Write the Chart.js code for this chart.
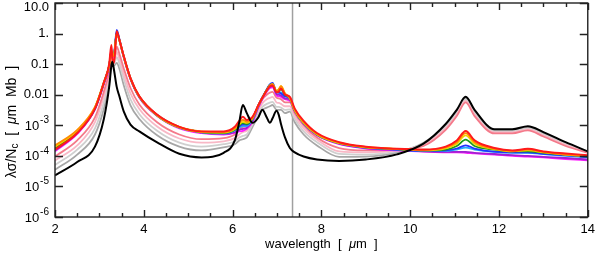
<!DOCTYPE html>
<html>
<head>
<meta charset="utf-8">
<script src="https://cdn.jsdelivr.net/npm/chart.js@4.4.1/dist/chart.umd.min.js"></script>
<style>
  body { margin: 0; background: #fff; }
</style>
</head>
<body>
<canvas id="chart" width="600" height="257"></canvas>
<script>
// wavelength grid (micron) shared by all curves
const wavelength = [2.0, 2.5, 2.9, 3.1, 3.22, 3.27, 3.29, 3.33, 3.39, 3.45, 3.55, 3.7, 3.9, 4.3, 4.8, 5.3, 5.8, 6.05, 6.15, 6.23, 6.32, 6.45, 6.58, 6.67, 6.77, 6.84, 6.9, 6.99, 7.04, 7.09, 7.18, 7.29, 7.4, 7.6, 7.9, 8.4, 9.0, 9.7, 10.3, 10.8, 11.05, 11.25, 11.45, 11.9, 12.3, 12.65, 13.0, 13.5, 14.0];

// lambda*sigma/Nc
const black = [2.3e-5, 6.3e-5, 2.0e-4, 1.6e-3, 1.8e-2, 8.9e-2, 0.12, 6.3e-2, 1.8e-2, 8.9e-3, 2.8e-3, 1.05e-3, 6.3e-4, 2.75e-4, 1.17e-4, 8.9e-5, 1.26e-4, 3.2e-4, 1.26e-3, 4.6e-3, 2.5e-3, 1.2e-3, 1.8e-3, 3.2e-3, 1.8e-3, 1.2e-3, 1.7e-3, 3.0e-3, 2.2e-3, 1.1e-3, 4.0e-4, 1.8e-4, 1.3e-4, 9.5e-5, 7.6e-5, 6.8e-5, 7.6e-5, 1.12e-4, 2.5e-4, 1.1e-3, 3.2e-3, 8.5e-3, 3.2e-3, 7.4e-4, 7.4e-4, 9.3e-4, 6.0e-4, 2.8e-4, 1.4e-4];
const darkGray = [3.5e-5, 1.1e-4, 5.0e-4, 3.5e-3, 2.4e-2, 0.1, 0.12, 8.9e-2, 0.11, 7.1e-2, 2.0e-2, 4.5e-3, 1.6e-3, 4.7e-4, 2.0e-4, 1.5e-4, 1.9e-4, 2.4e-4, 3.2e-4, 3.5e-4, 4.0e-4, 8.9e-4, 2.0e-3, 3.2e-3, 3.8e-3, 4.2e-3, 4.6e-3, 3.2e-3, 3.2e-3, 3.2e-3, 2.5e-3, 2.8e-3, 1.26e-3, 5.0e-4, 2.2e-4, 9.3e-5, 9.5e-5, 1.3e-4, 2.7e-4, 1.0e-3, 2.8e-3, 7.6e-3, 2.8e-3, 6.8e-4, 6.8e-4, 8.5e-4, 5.5e-4, 2.6e-4, 1.35e-4];
const lightGray = [5.0e-5, 1.6e-4, 7.9e-4, 5.6e-3, 3.2e-2, 0.11, 0.13, 0.1, 0.17, 0.105, 3.2e-2, 7.1e-3, 2.3e-3, 6.6e-4, 2.7e-4, 2.0e-4, 2.4e-4, 3.0e-4, 4.0e-4, 4.5e-4, 5.0e-4, 1.1e-3, 2.5e-3, 4.0e-3, 5.0e-3, 5.5e-3, 5.8e-3, 4.0e-3, 4.0e-3, 3.8e-3, 3.2e-3, 3.3e-3, 1.6e-3, 6.3e-4, 2.8e-4, 1.17e-4, 1.1e-4, 1.4e-4, 2.5e-4, 8.9e-4, 2.5e-3, 6.9e-3, 2.5e-3, 6.3e-4, 6.3e-4, 7.9e-4, 5.0e-4, 2.45e-4, 1.3e-4];
const lightPink = [7.1e-5, 2.2e-4, 1.26e-3, 8.9e-3, 4.2e-2, 0.126, 0.14, 0.11, 0.25, 0.15, 4.7e-2, 1.1e-2, 3.4e-3, 9.1e-4, 3.7e-4, 2.7e-4, 3.0e-4, 3.8e-4, 5.0e-4, 6.0e-4, 6.6e-4, 1.4e-3, 3.2e-3, 5.2e-3, 7.1e-3, 7.9e-3, 8.5e-3, 5.6e-3, 5.4e-3, 5.0e-3, 4.2e-3, 4.2e-3, 2.0e-3, 7.9e-4, 3.4e-4, 1.4e-4, 1.3e-4, 1.5e-4, 2.3e-4, 7.9e-4, 2.2e-3, 6.3e-3, 2.2e-3, 5.9e-4, 5.9e-4, 7.4e-4, 4.7e-4, 2.3e-4, 1.3e-4];
const pink = [9.5e-5, 3.2e-4, 1.8e-3, 1.26e-2, 5.6e-2, 0.16, 0.16, 0.13, 0.37, 0.22, 7.1e-2, 1.66e-2, 4.8e-3, 1.26e-3, 5.0e-4, 3.5e-4, 3.8e-4, 5.0e-4, 7.1e-4, 8.9e-4, 9.5e-4, 1.8e-3, 4.2e-3, 7.1e-3, 1.0e-2, 1.17e-2, 1.23e-2, 7.9e-3, 7.6e-3, 7.1e-3, 5.6e-3, 5.6e-3, 2.5e-3, 1.0e-3, 4.0e-4, 1.8e-4, 1.5e-4, 1.6e-4, 2.1e-4, 7.1e-4, 2.0e-3, 5.6e-3, 2.0e-3, 5.4e-4, 5.4e-4, 6.8e-4, 4.3e-4, 2.1e-4, 1.26e-4];
const magenta = [1.4e-4, 5.2e-4, 3.3e-3, 2.2e-2, 7.9e-2, 0.32, 0.16, 0.19, 1.05, 0.59, 0.16, 3.2e-2, 7.9e-3, 2.0e-3, 7.9e-4, 5.5e-4, 5.0e-4, 5.6e-4, 6.3e-4, 6.6e-4, 7.6e-4, 1.3e-3, 3.8e-3, 7.1e-3, 1.26e-2, 1.66e-2, 1.74e-2, 9.5e-3, 8.9e-3, 8.5e-3, 7.1e-3, 6.3e-3, 2.8e-3, 1.1e-3, 4.7e-4, 2.4e-4, 1.74e-4, 1.5e-4, 1.38e-4, 1.3e-4, 1.3e-4, 1.26e-4, 1.2e-4, 1.1e-4, 1.0e-4, 9.5e-5, 8.9e-5, 7.9e-5, 7.1e-5];
const purple = [1.5e-4, 5.5e-4, 3.4e-3, 2.3e-2, 8.3e-2, 0.25, 0.18, 0.21, 1.12, 0.63, 0.166, 3.3e-2, 8.3e-3, 2.1e-3, 8.3e-4, 5.8e-4, 5.2e-4, 6.0e-4, 7.1e-4, 7.6e-4, 8.3e-4, 1.4e-3, 4.0e-3, 7.6e-3, 1.35e-2, 1.8e-2, 1.9e-2, 1.05e-2, 1.0e-2, 9.5e-3, 7.6e-3, 6.8e-3, 2.9e-3, 1.15e-3, 4.8e-4, 2.5e-4, 1.8e-4, 1.55e-4, 1.4e-4, 1.35e-4, 1.35e-4, 1.35e-4, 1.26e-4, 1.15e-4, 1.05e-4, 1.0e-4, 9.3e-5, 8.5e-5, 7.6e-5];
const cyan = [1.66e-4, 6.0e-4, 3.5e-3, 2.4e-2, 8.9e-2, 0.25, 0.18, 0.2, 1.12, 0.63, 0.17, 3.4e-2, 8.5e-3, 2.1e-3, 8.5e-4, 5.9e-4, 5.4e-4, 6.8e-4, 8.5e-4, 9.3e-4, 9.5e-4, 1.6e-3, 4.4e-3, 7.9e-3, 1.45e-2, 2.1e-2, 2.2e-2, 1.2e-2, 1.2e-2, 1.2e-2, 8.9e-3, 7.6e-3, 3.0e-3, 1.17e-3, 4.9e-4, 2.6e-4, 1.86e-4, 1.6e-4, 1.45e-4, 1.45e-4, 1.6e-4, 1.86e-4, 1.6e-4, 1.35e-4, 1.26e-4, 1.26e-4, 1.15e-4, 1.0e-4, 8.9e-5];
const blue = [1.7e-4, 6.2e-4, 3.6e-3, 2.45e-2, 8.9e-2, 0.25, 0.19, 0.22, 1.32, 0.66, 0.18, 3.5e-2, 8.7e-3, 2.2e-3, 8.7e-4, 6.0e-4, 5.5e-4, 7.1e-4, 9.3e-4, 1.05e-3, 1.05e-3, 1.66e-3, 4.6e-3, 8.3e-3, 1.5e-2, 2.2e-2, 2.45e-2, 1.2e-2, 1.17e-2, 1.1e-2, 8.9e-3, 7.6e-3, 3.0e-3, 1.17e-3, 4.9e-4, 2.6e-4, 1.86e-4, 1.6e-4, 1.45e-4, 1.5e-4, 1.74e-4, 2.2e-4, 1.74e-4, 1.38e-4, 1.3e-4, 1.3e-4, 1.17e-4, 1.05e-4, 9.1e-5];
const green = [1.8e-4, 6.3e-4, 3.7e-3, 2.5e-2, 8.9e-2, 0.25, 0.18, 0.2, 1.05, 0.6, 0.17, 3.4e-2, 8.5e-3, 2.1e-3, 8.5e-4, 6.0e-4, 5.6e-4, 7.2e-4, 1.0e-3, 1.17e-3, 1.1e-3, 1.66e-3, 4.4e-3, 7.9e-3, 1.45e-2, 2.0e-2, 2.2e-2, 1.26e-2, 1.35e-2, 1.5e-2, 1.0e-2, 7.6e-3, 3.0e-3, 1.2e-3, 5.0e-4, 2.6e-4, 1.9e-4, 1.66e-4, 1.5e-4, 1.6e-4, 2.1e-4, 3.4e-4, 2.1e-4, 1.6e-4, 1.4e-4, 1.4e-4, 1.26e-4, 1.1e-4, 9.5e-5];
const yellow = [2.0e-4, 6.6e-4, 3.8e-3, 2.5e-2, 8.9e-2, 0.25, 0.18, 0.2, 1.0, 0.6, 0.17, 3.4e-2, 8.5e-3, 2.1e-3, 8.5e-4, 6.0e-4, 5.8e-4, 7.6e-4, 1.07e-3, 1.3e-3, 1.2e-3, 1.7e-3, 4.4e-3, 7.9e-3, 1.4e-2, 2.0e-2, 2.2e-2, 1.35e-2, 1.5e-2, 1.9e-2, 1.1e-2, 7.6e-3, 3.0e-3, 1.2e-3, 5.0e-4, 2.6e-4, 1.9e-4, 1.66e-4, 1.5e-4, 1.75e-4, 2.5e-4, 4.7e-4, 2.5e-4, 1.66e-4, 1.4e-4, 1.5e-4, 1.3e-4, 1.1e-4, 1.0e-4];
const orange = [2.2e-4, 7.1e-4, 4.0e-3, 2.5e-2, 8.9e-2, 0.28, 0.18, 0.2, 1.0, 0.63, 0.18, 3.5e-2, 8.9e-3, 2.2e-3, 8.9e-4, 6.3e-4, 6.0e-4, 7.9e-4, 1.2e-3, 1.5e-3, 1.3e-3, 1.8e-3, 4.5e-3, 7.9e-3, 1.4e-2, 2.0e-2, 2.2e-2, 1.3e-2, 1.5e-2, 1.9e-2, 1.1e-2, 7.9e-3, 3.2e-3, 1.26e-3, 5.2e-4, 2.7e-4, 1.95e-4, 1.7e-4, 1.55e-4, 1.9e-4, 2.8e-4, 5.5e-4, 2.8e-4, 1.7e-4, 1.45e-4, 1.6e-4, 1.35e-4, 1.1e-4, 1.0e-4];
const red = [1.6e-4, 5.6e-4, 3.5e-3, 2.5e-2, 0.1, 0.42, 0.16, 0.11, 1.2, 0.63, 0.18, 3.5e-2, 8.9e-3, 2.2e-3, 8.9e-4, 6.3e-4, 6.3e-4, 8.9e-4, 1.4e-3, 1.9e-3, 1.5e-3, 1.9e-3, 4.5e-3, 7.9e-3, 1.4e-2, 1.9e-2, 2.0e-2, 1.2e-2, 1.26e-2, 1.6e-2, 1.0e-2, 8.5e-3, 3.5e-3, 1.4e-3, 5.6e-4, 2.8e-4, 2.0e-4, 1.7e-4, 1.6e-4, 2.0e-4, 3.2e-4, 6.5e-4, 3.2e-4, 1.8e-4, 1.5e-4, 1.7e-4, 1.4e-4, 1.2e-4, 1.05e-4];

// y tick labels: value, base text, exponent text
const yTickValues = [1e-6, 1e-5, 1e-4, 1e-3, 0.01, 0.1, 1, 10];
const yTickBase = ["10", "10", "10", "10", "0.01", "0.1", "1.", "10.0"];
const yTickExp = ["-6", "-5", "-4", "-3", "", "", "", ""];
const markerWavelength = 7.35;

const FONT = "'Liberation Sans', Arial, sans-serif";

// first entry is drawn on top
const curves = [
  { values: black, color: "#000000", width: 2 },
  { values: red, color: "#ff1a1a", width: 2 },
  { values: orange, color: "#ff8c00", width: 1.8 },
  { values: yellow, color: "#f2d600", width: 1.8 },
  { values: green, color: "#1a9a1a", width: 1.8 },
  { values: blue, color: "#2233ff", width: 1.8 },
  { values: cyan, color: "#22aaff", width: 1.8 },
  { values: purple, color: "#a020d0", width: 1.8 },
  { values: magenta, color: "#ff1aff", width: 1.8 },
  { values: pink, color: "#f47a8a", width: 1.8 },
  { values: lightPink, color: "#f8b8c6", width: 1.8 },
  { values: lightGray, color: "#cfcfcf", width: 1.8 },
  { values: darkGray, color: "#a6a6a6", width: 1.8 },
];

function drawParts(ctx, parts, cx, cy) {
  let total = 0;
  parts.forEach(p => { ctx.font = p.font; p.w = ctx.measureText(p.text).width; total += p.w; });
  let x = cx - total / 2;
  parts.forEach(p => {
    ctx.font = p.font;
    ctx.fillText(p.text, x, cy + (p.dy || 0));
    x += p.w;
  });
}

const framePlugin = {
  id: "frame",
  beforeDatasetsDraw(chart) {
    const ctx = chart.ctx, a = chart.chartArea;
    const mx = chart.scales.x.getPixelForValue(markerWavelength);
    ctx.save();
    ctx.strokeStyle = "#a0a0a0";
    ctx.lineWidth = 1.5;
    ctx.beginPath();
    ctx.moveTo(mx, a.top);
    ctx.lineTo(mx, a.bottom);
    ctx.stroke();
    ctx.restore();
  },
  afterDraw(chart) {
    const ctx = chart.ctx, a = chart.chartArea;
    const xs = chart.scales.x, ys = chart.scales.y;
    ctx.save();
    ctx.strokeStyle = "#222";
    ctx.lineWidth = 1.4;
    ctx.strokeRect(a.left, a.top, a.right - a.left, a.bottom - a.top);
    ctx.beginPath();
    for (let v = xs.min; v <= xs.max + 1e-9; v += 0.5) {
      const px = Math.round(xs.getPixelForValue(v)) + 0.5;
      const len = Math.abs(v % 2) < 1e-9 ? 7 : 4;
      ctx.moveTo(px, a.bottom); ctx.lineTo(px, a.bottom - len);
      ctx.moveTo(px, a.top); ctx.lineTo(px, a.top + len);
    }
    yTickValues.forEach(v => {
      const py = Math.round(ys.getPixelForValue(v)) + 0.5;
      ctx.moveTo(a.left, py); ctx.lineTo(a.left + 8, py);
      ctx.moveTo(a.right, py); ctx.lineTo(a.right - 8, py);
    });
    ctx.stroke();

    ctx.fillStyle = "#000";
    ctx.textBaseline = "middle";
    const reg = "13px " + FONT, ital = "italic 13px " + FONT, small = "10px " + FONT;

    // y tick labels with superscript exponents
    ctx.textAlign = "right";
    yTickValues.forEach((v, i) => {
      const py = Math.max(ys.getPixelForValue(v), 7);
      let x = a.left - 6;
      if (yTickExp[i]) {
        ctx.font = small;
        ctx.fillText(yTickExp[i], x, py - 5);
        x -= ctx.measureText(yTickExp[i]).width + 1;
      }
      ctx.font = reg;
      ctx.fillText(yTickBase[i], x, py + (yTickExp[i] ? 1 : 0));
    });

    ctx.textAlign = "left";
    drawParts(ctx, [
      { text: "wavelength  [  ", font: reg },
      { text: "\u03BC", font: ital },
      { text: "m  ]", font: reg },
    ], (a.left + a.right) / 2, 244);

    const treg = "14px " + FONT, tital = "italic 14px " + FONT, tsmall = "10px " + FONT;
    ctx.translate(12, (a.top + a.bottom) / 2 + 12);
    ctx.rotate(-Math.PI / 2);
    drawParts(ctx, [
      { text: "\u03BB\u03C3/N", font: treg },
      { text: "c", font: tsmall, dy: 3 },
      { text: "  [  ", font: treg },
      { text: "\u03BC", font: tital },
      { text: "m  Mb  ]", font: treg },
    ], 0, 0);
    ctx.restore();
  }
};

new Chart(document.getElementById("chart"), {
  type: "line",
  data: {
    datasets: curves.map(c => ({
      data: wavelength.map((w, i) => ({ x: w, y: c.values[i] })),
      borderColor: c.color,
      borderWidth: c.width,
      pointRadius: 0,
      fill: false,
      cubicInterpolationMode: "monotone",
    })),
  },
  options: {
    responsive: false,
    animation: false,
    devicePixelRatio: 1,
    layout: { padding: { top: 3, right: 8, left: 0, bottom: 0 } },
    plugins: { legend: { display: false }, tooltip: { enabled: false } },
    scales: {
      x: {
        type: "linear",
        min: 2,
        max: 14,
        grid: { display: false, drawTicks: false },
        border: { display: false },
        ticks: { stepSize: 2, padding: 5, color: "#000", font: { family: FONT, size: 13 } },
        afterFit: s => { s.height = 40; },
      },
      y: {
        type: "logarithmic",
        min: 1e-6,
        max: 10,
        grid: { display: false, drawTicks: false },
        border: { display: false },
        afterBuildTicks: s => { s.ticks = yTickValues.map(v => ({ value: v })); },
        ticks: { display: false },
        afterFit: s => { s.width = 55; },
      },
    },
  },
  plugins: [framePlugin],
});
</script>
</body>
</html>
